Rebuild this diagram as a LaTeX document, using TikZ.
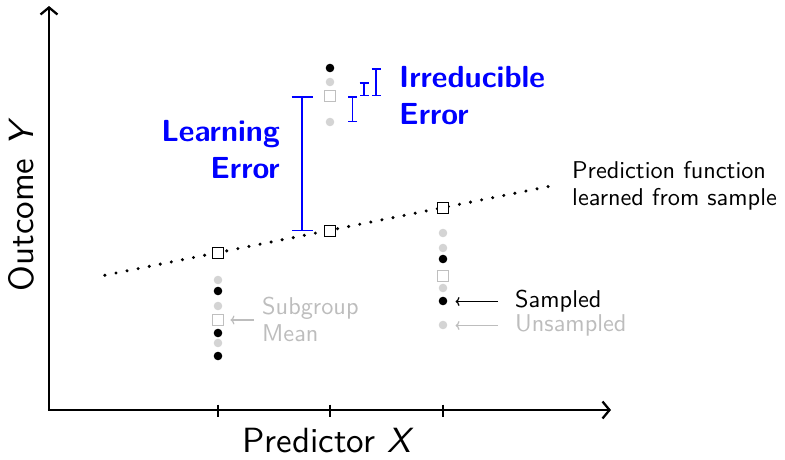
\documentclass[tikz,border=0pt]{standalone}
\usepackage{fontspec}
\setsansfont{lmsans10-regular.otf}[BoldFont=lmsans10-bold.otf,ItalicFont=lmsans10-oblique.otf,SlantedFont=lmsans10-oblique.otf,BoldItalicFont=lmsans10-boldoblique.otf]
\usetikzlibrary{arrows.meta,calc}
\definecolor{ltgray}{gray}{0.83}
\definecolor{sqgray}{gray}{0.75}
\definecolor{txtgray}{gray}{0.74}
\definecolor{errblue}{RGB}{0,0,255}
\begin{document}
\begin{tikzpicture}[x=1pt,y=-1pt,font=\sffamily,
  axis/.style={line width=2.3pt,-{Straight Barb[length=7pt,width=17pt]}},
  tick/.style={line width=2.3pt},
  dotpt/.style={circle,inner sep=0pt,minimum size=8.6pt},
  samp/.style={dotpt,fill=black},
  unsamp/.style={dotpt,fill=ltgray},
  meansq/.style={rectangle,draw=sqgray,fill=white,line width=1.4pt,minimum size=11.5pt,inner sep=0pt},
  predsq/.style={rectangle,draw=black,fill=white,line width=1.4pt,minimum size=11.5pt,inner sep=0pt},
  bigerr/.style={draw=errblue,line width=1.5pt,{Bar[width=21pt]}-{Bar[width=21pt]}},
  smallerr/.style={draw=errblue,line width=1.5pt,{Bar[width=9pt]}-{Bar[width=9pt]}},
  errlbl/.style={text=errblue,font=\sffamily\bfseries\fontsize{30.5}{37}\selectfont,inner sep=0pt},
  smalllbl/.style={font=\sffamily\fontsize{24.3}{26.5}\selectfont,inner sep=0pt},
  axlbl/.style={font=\sffamily\fontsize{35}{42}\selectfont,inner sep=0pt},
  lblarrow/.style={line width=1.2pt,-{To[length=4pt,width=9pt]}},
  predline/.style={line width=3.4pt,line cap=round,dash pattern=on 0pt off 11.3pt}
]
\useasboundingbox (0,0) rectangle (785,459);

% axes
\coordinate (O) at (49,410);
\coordinate (ytop) at (49,6);
\coordinate (xend) at (611,410);
\draw[axis] (O) -- (ytop);
\draw[axis] ([xshift=-1.15pt]O) -- (xend);
\foreach \x/\n in {218/t1,330/t2,443/t3}{
  \coordinate (\n a) at (\x,404.5);
  \coordinate (\n b) at (\x,417);
  \draw[tick] (\n a) -- (\n b);
}
\node[axlbl,anchor=base] (xl) at (328,452) {Predictor \textsl{X}};
\node[axlbl,anchor=base,rotate=90] (yl) at (34,205) {Outcome \textsl{Y}};

% prediction function points
\coordinate (p1) at (218,253);
\coordinate (p2) at (330,231);
\coordinate (p3) at (443,208);
\draw[predline] ($(p1)!-1.01!(p2)$) -- ($(p3)!-1!(p2)$);
\node[predsq] (s1) at (p1) {};
\node[predsq] (s2) at (p2) {};
\node[predsq] (s3) at (p3) {};

% left group
\node[unsamp] (l1) at (218,280) {};
\node[samp]   (l2) at (218,291) {};
\node[unsamp] (l3) at (218,306) {};
\node[meansq] (lm) at (218,320) {};
\node[samp]   (l4) at (218,333) {};
\node[unsamp] (l5) at (218,343) {};
\node[samp]   (l6) at (218,356) {};

% middle group
\node[samp]   (m1) at (330,68) {};
\node[unsamp] (m2) at (330,82) {};
\node[meansq] (mm) at (330,96) {};
\node[unsamp] (m3) at (330,122) {};

% right group
\node[unsamp] (r1) at (443,233) {};
\node[unsamp] (r2) at (443,248) {};
\node[samp]   (r3) at (443,259) {};
\node[meansq] (rm) at (443,276) {};
\node[unsamp] (r4) at (443,288) {};
\node[samp]   (r5) at (443,301) {};
\node[unsamp] (r6) at (443,325) {};

% error bars
\coordinate (lx) at (302,0);
\coordinate (ix1) at (352.5,0);
\coordinate (ix2) at (364,0);
\coordinate (ix3) at (376,0);
\draw[bigerr] (lx |- mm) -- (lx |- s2);
\draw[smallerr] (ix1 |- mm) -- (ix1 |- m3);
\draw[smallerr] (ix2 |- m2) -- (ix2 |- mm);
\draw[smallerr] (ix3 |- m1) -- (ix3 |- mm);

\node[errlbl,anchor=base east,align=right] (le) at (280,178) {Learning\\Error};
\node[errlbl,anchor=base west,align=left] (ie) at (399,124) {Irreducible\\Error};

% labels
\node[smalllbl,anchor=base west,align=left] (pf) at (572,205) {Prediction function\\learned from sample};
\node[smalllbl,anchor=west] (sl) at (515,301.5) {Sampled};
\node[smalllbl,anchor=west,text=txtgray] (ul) at (515,325.5) {Unsampled};
\node[smalllbl,anchor=base west,align=left,text=txtgray] (sg) at (262,341) {Subgroup\\Mean};

\draw[lblarrow] ([xshift=-17pt]sl.west) -- ([xshift=8pt]sl.west -| r5.east);
\draw[lblarrow,draw=txtgray] ([xshift=-17pt]ul.west) -- ([xshift=8pt]ul.west -| r6.east);
\coordinate (sga) at (254,320);
\draw[lblarrow,draw=txtgray] (sga) -- ([xshift=6pt]sga -| lm.east);
\end{tikzpicture}
\end{document}
